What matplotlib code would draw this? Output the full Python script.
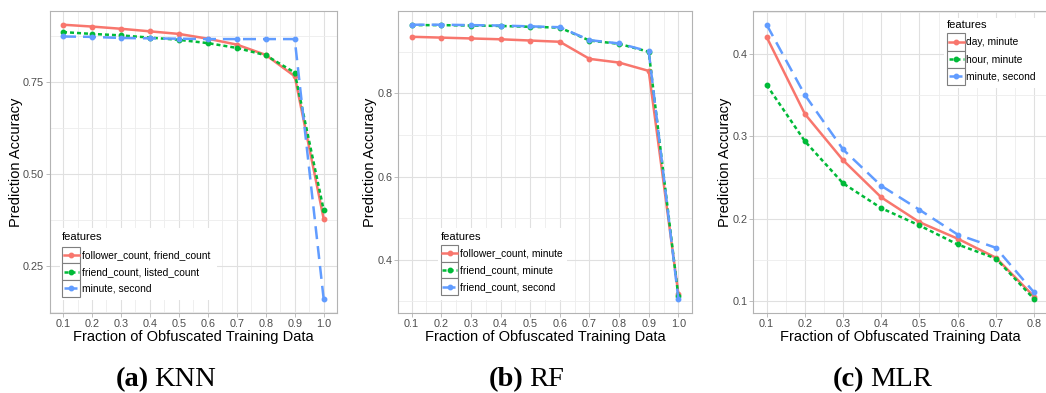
import matplotlib
matplotlib.use('Agg')
import matplotlib.pyplot as plt
from matplotlib.lines import Line2D
from matplotlib.patches import Rectangle
from matplotlib.ticker import MultipleLocator, FormatStrFormatter

plt.rcParams['font.family'] = ['Liberation Sans', 'DejaVu Sans']

# data
frac_knn = [0.1, 0.2, 0.3, 0.4, 0.5, 0.6, 0.7, 0.8, 0.9, 1.0]
knn_follower_friend = [0.905, 0.900, 0.894, 0.887, 0.880, 0.867, 0.851, 0.823, 0.765, 0.378]
knn_friend_listed = [0.885, 0.880, 0.876, 0.870, 0.864, 0.855, 0.842, 0.822, 0.775, 0.402]
knn_minute_second = [0.873, 0.872, 0.869, 0.868, 0.867, 0.866, 0.866, 0.866, 0.866, 0.160]
knn_labels = ['follower_count, friend_count', 'friend_count, listed_count', 'minute, second']

frac_rf = [0.1, 0.2, 0.3, 0.4, 0.5, 0.6, 0.7, 0.8, 0.9, 1.0]
rf_follower_minute = [0.936, 0.934, 0.932, 0.930, 0.927, 0.924, 0.883, 0.874, 0.854, 0.318]
rf_friend_minute = [0.964, 0.964, 0.963, 0.962, 0.960, 0.958, 0.927, 0.919, 0.900, 0.312]
rf_friend_second = [0.965, 0.965, 0.964, 0.963, 0.961, 0.959, 0.928, 0.920, 0.901, 0.306]
rf_labels = ['follower_count, minute', 'friend_count, minute', 'friend_count, second']

frac_mlr = [0.1, 0.2, 0.3, 0.4, 0.5, 0.6, 0.7, 0.8]
mlr_day_minute = [0.420, 0.327, 0.271, 0.226, 0.196, 0.176, 0.153, 0.106]
mlr_hour_minute = [0.362, 0.294, 0.243, 0.213, 0.192, 0.169, 0.152, 0.103]
mlr_minute_second = [0.435, 0.350, 0.284, 0.240, 0.211, 0.181, 0.165, 0.111]
mlr_labels = ['day, minute', 'hour, minute', 'minute, second']

W, H = 1046, 393
colors = ['#F8766D', '#00BA38', '#619CFF']
styles = [dict(linestyle='-'), dict(dashes=(1.6, 1.2)), dict(dashes=(5.2, 2.8))]
LW = 1.8
MS = 3.2

fig = plt.figure(figsize=(W / 100, H / 100), dpi=100)


def px_rect(left, right, top, bottom):
    return [left / W, 1 - bottom / H, (right - left) / W, (bottom - top) / H]


def fx(x):
    return x / W


def fy(y):
    return 1 - y / H


def setup(ax, xs, series, ystep, yfmt, ylab_x, left_px, width_px):
    for ys, c, st in zip(series, colors, styles):
        ax.plot(xs, ys, color=c, lw=LW, marker='o', ms=MS, mec=c, **st)
    lo = min(min(s) for s in series)
    hi = max(max(s) for s in series)
    pad = 0.05 * (hi - lo)
    ax.set_ylim(lo - pad, hi + pad)
    xpad = 0.05 * (xs[-1] - xs[0])
    ax.set_xlim(xs[0] - xpad, xs[-1] + xpad)
    ax.set_xticks(xs)
    ax.xaxis.set_major_formatter(FormatStrFormatter('%.1f'))
    ax.xaxis.set_minor_locator(MultipleLocator(0.05))
    ax.yaxis.set_major_locator(MultipleLocator(ystep))
    ax.yaxis.set_minor_locator(MultipleLocator(ystep / 2))
    ax.yaxis.set_major_formatter(FormatStrFormatter(yfmt))
    ax.grid(which='major', color='#E0E0E0', lw=0.8)
    ax.grid(which='minor', color='#EDEDED', lw=0.6)
    ax.set_axisbelow(True)
    for sp in ax.spines.values():
        sp.set_color('#B3B3B3')
        sp.set_linewidth(0.8)
    ax.tick_params(which='major', length=2.8, width=0.6, color='#B3B3B3',
                   labelcolor='#4D4D4D', labelsize=7.8, pad=1.5)
    ax.tick_params(which='minor', length=0)
    ax.set_xlabel('Fraction of Obfuscated Training Data', fontsize=10.5, color='black')
    ax.set_ylabel('Prediction Accuracy', fontsize=10.5, color='black')
    ax.xaxis.set_label_coords(0.5, -0.056)
    ax.yaxis.set_label_coords((ylab_x - left_px) / width_px, 0.5)


def legend(labels, bg, key_x, key_y, row_h, title_y):
    l, r, t, b = bg
    fig.add_artist(Rectangle((fx(l), fy(b)), (r - l) / W, (b - t) / H,
                             transform=fig.transFigure, facecolor='white',
                             edgecolor='none', zorder=5))
    fig.text(fx(key_x), fy(title_y), 'features', fontsize=8, va='center',
             ha='left', zorder=6)
    kw = 17.7
    for i, (lab, c, st) in enumerate(zip(labels, colors, styles)):
        y0 = key_y + i * row_h
        fig.add_artist(Rectangle((fx(key_x), fy(y0 + row_h)), kw / W, row_h / H,
                                 transform=fig.transFigure, facecolor='white',
                                 edgecolor='#7F7F7F', lw=0.8, zorder=6))
        yc = y0 + row_h / 2
        fig.add_artist(Line2D([fx(key_x + 1.5), fx(key_x + kw - 1.5)], [fy(yc), fy(yc)],
                              transform=fig.transFigure, color=c, lw=LW, zorder=7, **st))
        fig.add_artist(Line2D([fx(key_x + kw / 2)], [fy(yc)], transform=fig.transFigure,
                              color=c, marker='o', ms=MS, lw=0, zorder=7))
        fig.text(fx(key_x + kw + 1.5), fy(yc), lab, fontsize=7.4, va='center',
                 ha='left', zorder=7)


ax1 = fig.add_axes(px_rect(50, 336.7, 11, 312.7))
setup(ax1, frac_knn, [knn_follower_friend, knn_friend_listed, knn_minute_second],
      0.25, '%.2f', 23, 50, 286.7)
ax2 = fig.add_axes(px_rect(398.3, 691.7, 11, 312.7))
setup(ax2, frac_rf, [rf_follower_minute, rf_friend_minute, rf_friend_second],
      0.2, '%.1f', 377, 398.3, 293.4)
ax3 = fig.add_axes(px_rect(753.3, 1047.4, 11, 312.7))
setup(ax3, frac_mlr, [mlr_day_minute, mlr_hour_minute, mlr_minute_second],
      0.1, '%.1f', 732, 753.3, 294.1)

legend(knn_labels, (60, 217, 228, 300), 62.3, 246.7, 16.7, 237)
legend(rf_labels, (438, 567, 228, 300), 440.7, 245, 16.7, 237)
legend(mlr_labels, (944, 1046, 18, 88), 947.3, 33.3, 17.2, 25)

# captions
serif = ['Liberation Serif', 'DejaVu Serif']
for bold, rest, xr, xl in [('(a)', 'KNN', 149, 154), ('(b)', 'RF', 524, 529),
                           ('(c)', 'MLR', 864, 870)]:
    fig.text(fx(xr), fy(386), bold, family=serif, fontweight='bold', fontsize=20.5,
             ha='right', va='baseline')
    fig.text(fx(xl), fy(386), rest, family=serif, fontsize=20.5, ha='left',
             va='baseline')

fig.savefig('out.png', dpi=100)
